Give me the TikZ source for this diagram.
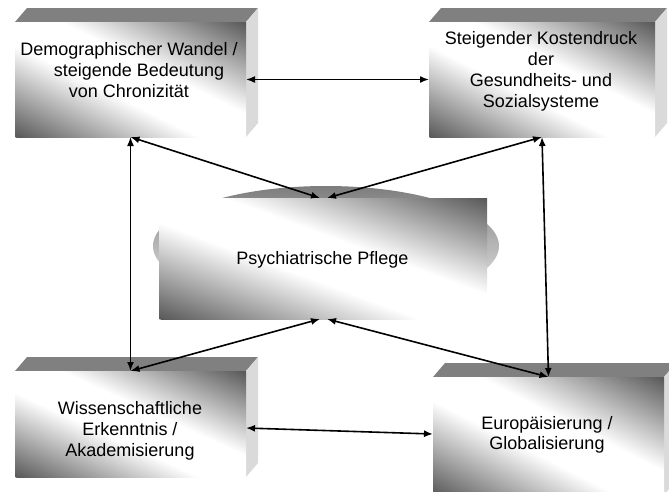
\documentclass[tikz,border=0pt]{standalone}
\usepackage{fontspec}
\setmainfont{Liberation Sans}
\usetikzlibrary{arrows.meta}
\definecolor{dk}{RGB}{88,88,88}
\definecolor{topc}{RGB}{128,128,128}
\definecolor{sidec}{RGB}{218,218,218}
\definecolor{ellT}{RGB}{125,125,125}
\definecolor{ellM}{RGB}{205,205,205}
\definecolor{ellB}{RGB}{240,240,240}
\pgfdeclarehorizontalshading{boxshade}{100bp}{color(0bp)=(dk); color(25bp)=(dk); color(45bp)=(white); color(55bp)=(white); color(75bp)=(dk); color(100bp)=(dk)}
% front face: dark at lower-left and upper-right corners, white band along the other diagonal
\newcommand\myFront[4]{%
  \pgfmathsetmacro\myFW{#3-#1}\pgfmathsetmacro\myFH{#4-#2}%
  \pgfmathsetmacro\myFA{\myFW/10}\pgfmathsetmacro\myFB{\myFH/10}%
  \pgfmathsetmacro\myFX{#1-\myFW/2}\pgfmathsetmacro\myFY{(#2+#4)/2}%
  \begin{scope}
    \clip (#1,#2) rectangle (#3,#4);
    \shade[shading=boxshade, transform canvas={cm={\myFA,\myFB,\myFA,-\myFB,(\myFX,\myFY)}}] (0pt,0pt) rectangle (10pt,10pt);
  \end{scope}}
\begin{document}
\begin{tikzpicture}[x=1pt,y=-1pt,
  boxnode/.style={inner sep=0pt, outer sep=0pt, draw=none},
  topface/.style={fill=topc},
  sideface/.style={fill=sidec},
  lbl/.style={font=\fontsize{18}{21}\selectfont, align=center, inner sep=0pt, anchor=north},
  conn/.style={{Latex[length=9pt,width=7pt]}-{Latex[length=9pt,width=7pt]}, line width=1.6pt}]
\useasboundingbox (0,0) rectangle (669,491);
\clip (0,0) rectangle (669,491);
% central element
\shade[top color=ellT, middle color=ellM, bottom color=ellB] (326,246) ellipse [x radius=173, y radius=60];
\myFront{159}{198}{487}{319}
\node[boxnode, minimum width=328pt, minimum height=121pt] (c) at (323,258.5) {};
% box 1
\fill[topface] (15,22) -- (27,8) -- (258,8) -- (246,22) -- cycle;
\fill[sideface] (246,22) -- (258,8) -- (258,123) -- (246,137) -- cycle;
\myFront{15}{22}{246}{137}
\node[boxnode, minimum width=231pt, minimum height=115pt] (b1) at (130.5,79.5) {};
% box 2
\fill[topface] (429,22) -- (441,8) -- (667,8) -- (655,22) -- cycle;
\fill[sideface] (655,22) -- (667,8) -- (667,123) -- (655,137) -- cycle;
\myFront{429}{22}{655}{137}
\node[boxnode, minimum width=226pt, minimum height=115pt] (b2) at (542,79.5) {};
% box 3
\fill[topface] (15,371) -- (27,357) -- (258,357) -- (246,371) -- cycle;
\fill[sideface] (246,371) -- (258,357) -- (258,463) -- (246,477) -- cycle;
\myFront{15}{371}{246}{477}
\node[boxnode, minimum width=231pt, minimum height=106pt] (b3) at (130.5,424) {};
% box 4
\fill[topface] (433,377) -- (445,363) -- (676,363) -- (664,377) -- cycle;
\fill[sideface] (664,377) -- (676,363) -- (676,481) -- (664,495) -- cycle;
\myFront{433}{377}{664}{495}
\node[boxnode, minimum width=231pt, minimum height=118pt] (b4) at (548.5,436) {};
% labels
\node[lbl] (t1) at (129,42) {Demographischer Wandel /\\\hspace*{20pt}steigende Bedeutung\\von Chronizität};
\node[lbl] (t2) at (541,31) {Steigender Kostendruck\\der\\Gesundheits- und\\Sozialsysteme};
\node[lbl] (t3) at (130,401) {Wissenschaftliche\\Erkenntnis /\\Akademisierung};
\node[lbl, font=\fontsize{18}{20}\selectfont] (t4) at (547,416) {Europäisierung /\\Globalisierung};
\node[lbl] (tc) at (322.5,251) {Psychiatrische Pflege};
% connectors
\draw[conn] (b1.east) -- (b2.west);
\draw[conn] (b1.south) -- (b3.north);
\draw[conn] (b1.south) -- ([xshift=-3pt]c.north);
\draw[conn] (b2.south) -- ([xshift=4pt]c.north);
\draw[conn] (b2.south) -- (b4.north);
\draw[conn] ([xshift=-3pt]c.south) -- (b3.north);
\draw[conn] ([xshift=4pt]c.south) -- (b4.north);
\draw[conn] ([yshift=-4pt]b3.east) -- ([yshift=2pt]b4.west);
\end{tikzpicture}
\end{document}
